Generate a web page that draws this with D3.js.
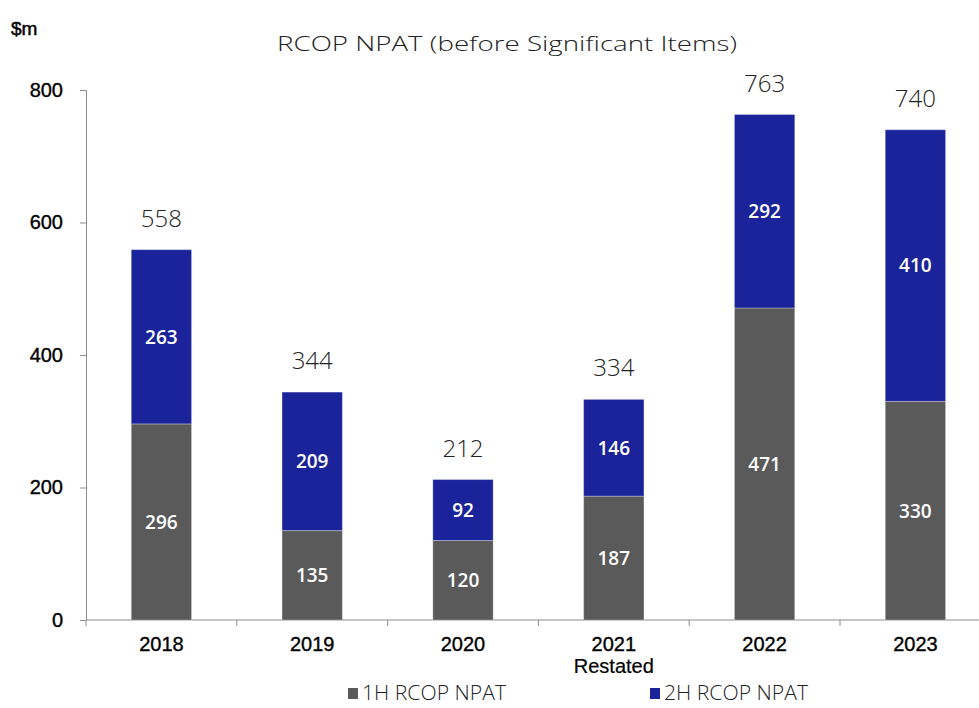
<!DOCTYPE html>
<html>
<head>
<meta charset="utf-8">
<script src="https://cdn.jsdelivr.net/npm/d3@7"></script>
<style>
  body { margin: 0; background: #fff; }
  svg { display: block; }
</style>
</head>
<body>
<div id="chart"></div>
<script>
// chart values
var years = ["2018", "2019", "2020", "2021", "2022", "2023"];
var subLabels = ["", "", "", "Restated", "", ""];
var firstHalf = [296, 135, 120, 187, 471, 330];
var secondHalf = [263, 209, 92, 146, 292, 410];
var totals = [558, 344, 212, 334, 763, 740];
var yTicks = [0, 200, 400, 600, 800];
var seriesNames = ["1H RCOP NPAT", "2H RCOP NPAT"];
var seriesColors = ["#5a5a5a", "#1a2399"];

var width = 979, height = 708;
var margin = {left: 86, top: 90, bottom: 88};
var step = 150.8;

var axisFont = "'Liberation Sans', Arial, sans-serif";
var lightFont = "'Open Sans', sans-serif";

var svg = d3.select("#chart").append("svg")
  .attr("width", width)
  .attr("height", height);

var x = d3.scaleBand().domain(years).range([margin.left, margin.left + 6 * step]).paddingInner(0.6).paddingOuter(0.3);
var y = d3.scaleLinear().domain([0, 800]).range([height - margin.bottom, margin.top]);

var rows = years.map((yr, i) => ({year: yr, h1: firstHalf[i], h2: secondHalf[i], total: totals[i], sub: subLabels[i]}));
var stack = d3.stack().keys(["h1", "h2"])(rows);

// y axis
var yAxis = svg.append("g").attr("transform", `translate(${margin.left},0)`)
  .call(d3.axisLeft(y).tickValues(yTicks).tickSize(6).tickPadding(17));
yAxis.select(".domain").attr("stroke", "#8c8c8c");
yAxis.selectAll(".tick line").attr("stroke", "#8c8c8c");
yAxis.selectAll("text")
  .attr("font-family", axisFont)
  .attr("font-size", 20)
  .attr("fill", "#000")
  .attr("stroke", "#000")
  .attr("stroke-width", 0.35);

// x axis with tick marks between categories
var xAxisG = svg.append("g").attr("transform", `translate(0,${y(0)})`);
xAxisG.append("line")
  .attr("x1", margin.left).attr("x2", width)
  .attr("stroke", "#8c8c8c");
xAxisG.selectAll(".sep").data(d3.range(7))
  .join("line")
  .attr("class", "sep")
  .attr("x1", i => margin.left + i * step)
  .attr("x2", i => margin.left + i * step)
  .attr("y1", 0).attr("y2", 6)
  .attr("stroke", "#8c8c8c");
xAxisG.selectAll(".xlab").data(rows)
  .join("text")
  .attr("class", "xlab")
  .attr("x", d => x(d.year) + x.bandwidth() / 2)
  .attr("y", 31)
  .attr("text-anchor", "middle")
  .attr("font-family", axisFont)
  .attr("font-size", 20)
  .attr("stroke", "#000")
  .attr("stroke-width", 0.35)
  .text(d => d.year);
xAxisG.selectAll(".xsub").data(rows.filter(d => d.sub))
  .join("text")
  .attr("class", "xsub")
  .attr("x", d => x(d.year) + x.bandwidth() / 2)
  .attr("y", 53)
  .attr("text-anchor", "middle")
  .attr("font-family", axisFont)
  .attr("font-size", 20)
  .attr("stroke", "#000")
  .attr("stroke-width", 0.2)
  .text(d => d.sub);

// bars
var layers = svg.append("g").selectAll(".layer").data(stack)
  .join("g")
  .attr("class", "layer")
  .attr("fill", (d, i) => seriesColors[i]);

layers.selectAll("rect").data(d => d)
  .join("rect")
  .attr("x", d => x(d.data.year))
  .attr("width", x.bandwidth())
  .attr("y", d => y(d[1]))
  .attr("height", d => y(d[0]) - y(d[1]))
  .attr("stroke", "rgba(255,255,255,0.3)")
  .attr("stroke-width", 1);

layers.selectAll("text").data(d => d)
  .join("text")
  .attr("x", d => x(d.data.year) + x.bandwidth() / 2)
  .attr("y", d => y((d[0] + d[1]) / 2))
  .attr("dy", "0.36em")
  .attr("text-anchor", "middle")
  .attr("fill", "#fff")
  .attr("font-family", lightFont)
  .attr("font-weight", 600)
  .attr("font-size", 19)
  .text(d => d[1] - d[0]);

// totals
svg.append("g").selectAll("text").data(rows)
  .join("text")
  .attr("x", d => x(d.year) + x.bandwidth() / 2)
  .attr("y", d => y(d3.max([d.h1 + d.h2, d.total])) - 23)
  .attr("text-anchor", "middle")
  .attr("fill", "#222")
  .attr("font-family", lightFont)
  .attr("font-weight", 300)
  .attr("font-size", 24)
  .text(d => d.total);

// title and unit (glyphs stretched to match the wide source face)
svg.append("text")
  .attr("x", 277).attr("y", 51)
  .attr("textLength", 460)
  .attr("lengthAdjust", "spacingAndGlyphs")
  .attr("font-family", lightFont)
  .attr("font-weight", 300)
  .attr("font-size", 20)
  .attr("fill", "#222")
  .text("RCOP NPAT (before Significant Items)");

svg.append("text")
  .attr("x", 11).attr("y", 35)
  .attr("font-family", axisFont)
  .attr("font-size", 19)
  .attr("stroke", "#000")
  .attr("stroke-width", 0.5)
  .text("$m");

// legend, low at the bottom edge as in the source
var legend = svg.append("g").selectAll("g").data(seriesNames)
  .join("g")
  .attr("transform", (d, i) => `translate(${[348, 650][i]},0)`);
legend.append("rect")
  .attr("y", 688)
  .attr("width", 10).attr("height", 11)
  .attr("fill", (d, i) => seriesColors[i]);
legend.append("text")
  .attr("x", 14).attr("y", 700)
  .attr("textLength", 144)
  .attr("lengthAdjust", "spacingAndGlyphs")
  .attr("font-family", lightFont)
  .attr("font-weight", 300)
  .attr("font-size", 20)
  .attr("fill", "#222")
  .text(d => d);
</script>
</body>
</html>
